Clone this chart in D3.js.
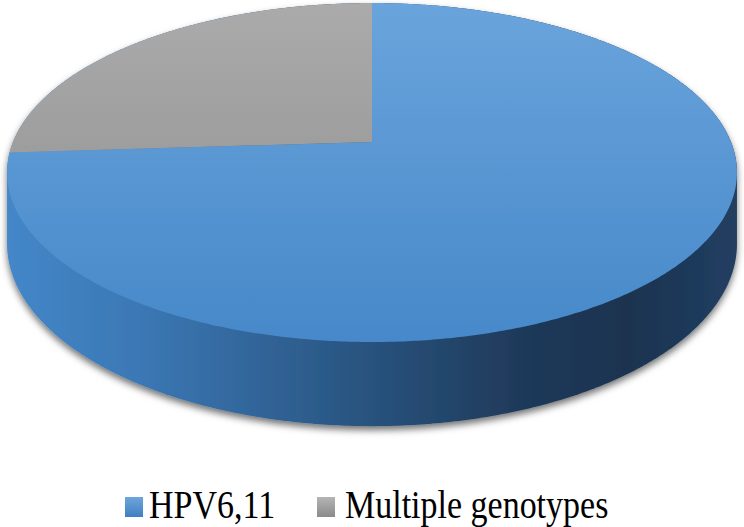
<!DOCTYPE html>
<html><head><meta charset="utf-8">
<script src="https://cdn.jsdelivr.net/npm/d3@7"></script>
<style>body{margin:0;background:#fff}svg{display:block}</style>
</head><body>
<script>
const categories = ["HPV6,11", "Multiple genotypes"];
const values = [74, 26];
const topColors = [["#6aa4dc", "#4688c9"], ["#ababab", "#8c8c8c"]];
const legendColors = [["#6ea6dc", "#3f7fc0"], ["#b5b5b5", "#8a8a8a"]];

const W = 744, H = 527;
const svg = d3.select("body").append("svg").attr("width", W).attr("height", H);
const defs = svg.append("defs");

// projection parameters
const cx = 372, cy = 142, R = 359, HY = 164, D = 5.556, depth = 69;
function proj(a, down) {
  const u = Math.sin(a), v = -Math.cos(a);
  const s = D / (D - v);
  return [cx + R * u * s, cy + HY * v * s + (down ? depth * s : 0)];
}

// gradients
topColors.forEach((c, i) => {
  const g = defs.append("linearGradient").attr("id", "top" + i)
    .attr("gradientUnits", "userSpaceOnUse").attr("x1", 0).attr("y1", 0).attr("x2", 0).attr("y2", 345);
  g.append("stop").attr("offset", "0%").attr("stop-color", c[0]);
  g.append("stop").attr("offset", "100%").attr("stop-color", c[1]);
});
legendColors.forEach((c, i) => {
  const g = defs.append("linearGradient").attr("id", "leg" + i).attr("x1", 0).attr("y1", 0).attr("x2", 0).attr("y2", 1);
  g.append("stop").attr("offset", "0%").attr("stop-color", c[0]);
  g.append("stop").attr("offset", "100%").attr("stop-color", c[1]);
});
const sg = defs.append("linearGradient").attr("id", "side")
  .attr("gradientUnits", "userSpaceOnUse").attr("x1", 7).attr("y1", 0).attr("x2", 737).attr("y2", 0);
[["0%", "#4487c9"], ["20%", "#3a76b2"], ["45%", "#2b5886"], ["70%", "#1f3a5a"], ["85%", "#1b3350"], ["100%", "#213f61"]]
  .forEach(s => sg.append("stop").attr("offset", s[0]).attr("stop-color", s[1]));
const f = defs.append("filter").attr("id", "shadow").attr("x", "-10%").attr("y", "-10%").attr("width", "120%").attr("height", "130%");
f.append("feDropShadow").attr("dx", 0).attr("dy", 4).attr("stdDeviation", 3.5)
  .attr("flood-color", "#000").attr("flood-opacity", 0.55);

const pie = d3.pie().sort(null).value(d => d);
const arcs = pie(values);

// side: hull of top and bottom outlines
const pts = [];
for (let i = 0; i < 720; i++) {
  const a = i / 720 * 2 * Math.PI;
  pts.push(proj(a, false), proj(a, true));
}
const hull = d3.polygonHull(pts);
svg.append("path").attr("d", "M" + hull.map(p => p.join(",")).join("L") + "Z")
  .attr("fill", "url(#side)").attr("filter", "url(#shadow)");

// top face slices
arcs.forEach((d, i) => {
  const n = Math.max(2, Math.ceil((d.endAngle - d.startAngle) / (Math.PI / 360)));
  const p = d3.path();
  const c = proj(0, false);
  p.moveTo(cx, cy);
  for (let k = 0; k <= n; k++) {
    const a = d.startAngle + (d.endAngle - d.startAngle) * k / n;
    const q = proj(a, false);
    p.lineTo(q[0], q[1]);
  }
  p.closePath();
  svg.append("path").attr("d", p.toString()).attr("fill", `url(#top${i})`);
});

// legend
const legX = [125, 317], textX = [149, 345];
const lg = svg.append("g");
categories.forEach((c, i) => {
  lg.append("rect").attr("x", legX[i]).attr("y", 497).attr("width", 18).attr("height", 20)
    .attr("fill", `url(#leg${i})`);
  lg.append("text").attr("transform", `translate(${textX[i]},518) scale(1,1.18)`)
    .attr("font-family", "Liberation Serif, Times New Roman, serif").attr("font-size", 34)
    .attr("fill", "#000").text(c);
});
</script>
</body></html>
